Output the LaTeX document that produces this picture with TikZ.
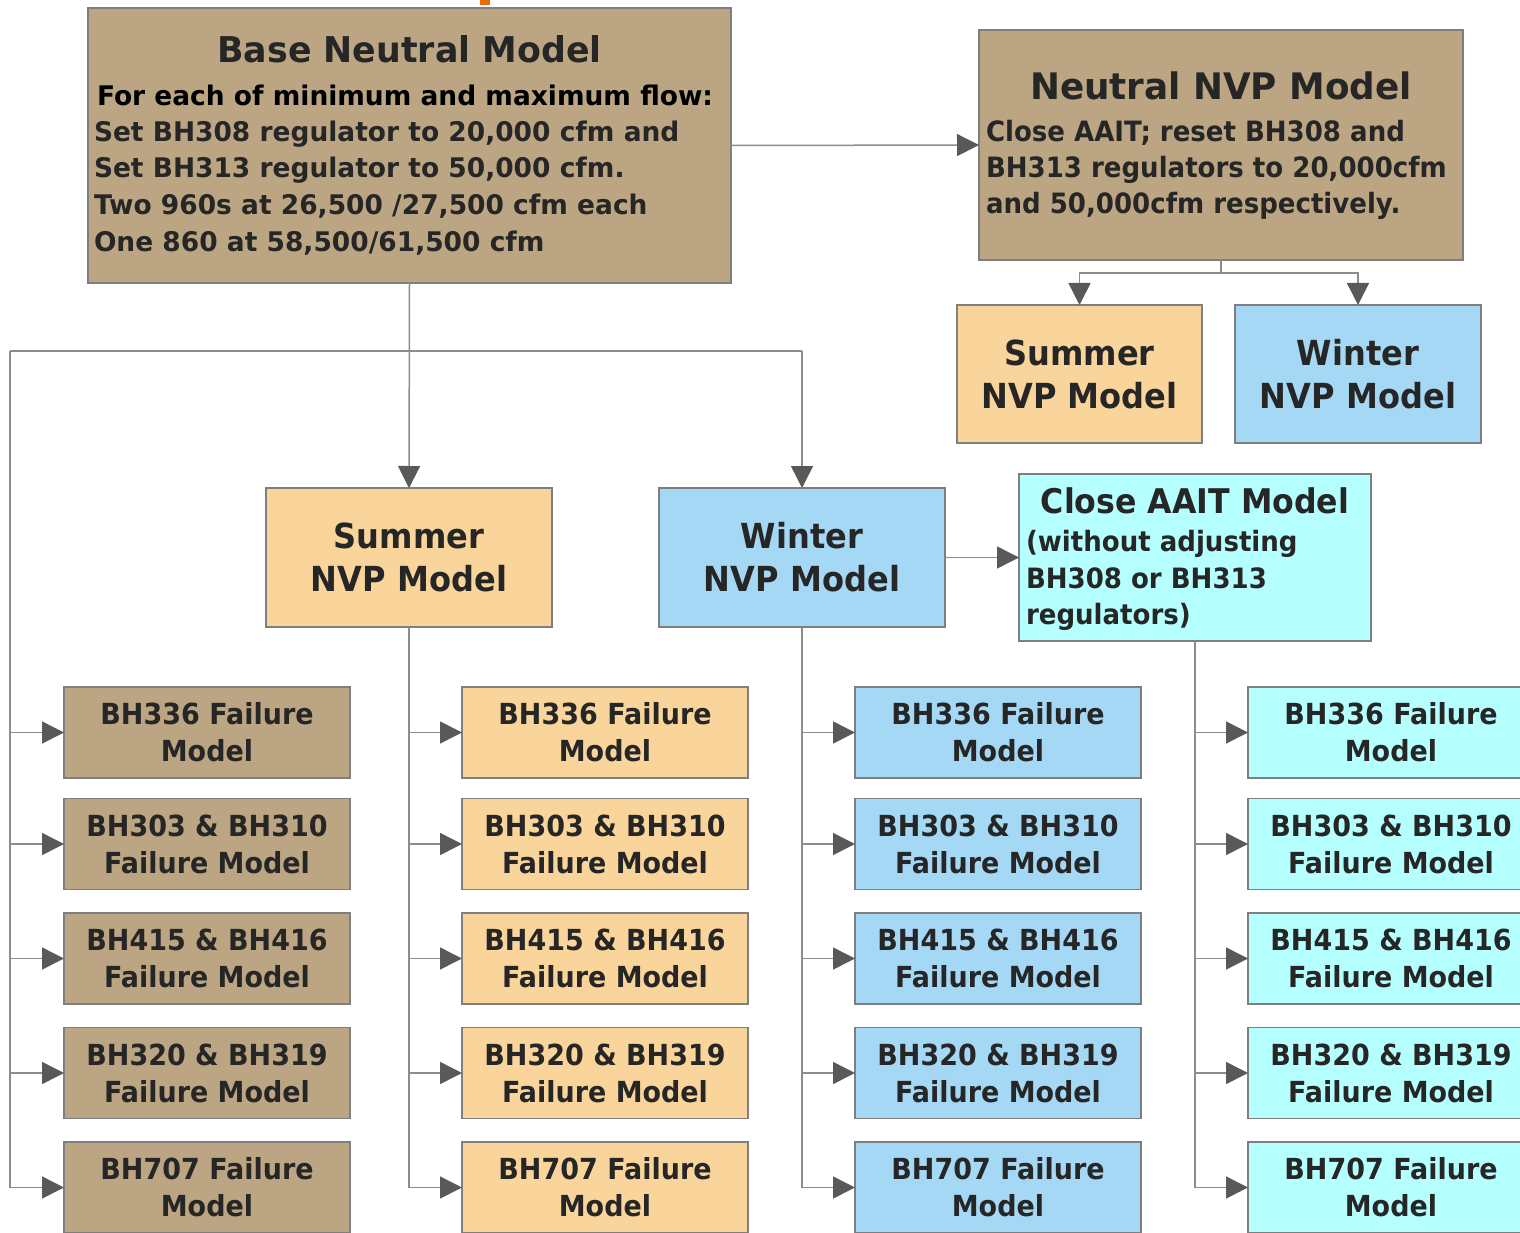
\documentclass[tikz,border=0pt]{standalone}
\usepackage{fontspec}
\setmainfont{DejaVu Sans}[FakeStretch=0.93]
\newfontfamily\wfont{DejaVu Sans}[FakeStretch=0.98]
\usetikzlibrary{arrows.meta}
\definecolor{ctan}{HTML}{BBA582}
\definecolor{csum}{HTML}{FAD59B}
\definecolor{cwin}{HTML}{A5D8F4}
\definecolor{ccyan}{HTML}{B5FFFE}
\definecolor{bordergray}{HTML}{7F7F7F}
\definecolor{linegray}{HTML}{8C8C8C}
\definecolor{arrowgray}{HTML}{595959}
\definecolor{txt}{HTML}{262626}
\definecolor{corange}{HTML}{E46C0A}
\tikzset{
  box/.style={draw=bordergray, line width=1.6pt, anchor=north west, inner sep=0pt, outer sep=0pt, text=txt, align=center},
  failbox/.style={box, minimum width=286pt, minimum height=91pt, font=\bfseries\fontsize{29}{37}\selectfont},
  seasonbox/.style={box, minimum width=#1, minimum height=138pt, font=\bfseries\fontsize{34.5}{43}\selectfont},
  txtnode/.style={inner sep=0pt, outer sep=0pt, text=txt},
  basetitle/.style={txtnode, anchor=base, font=\wfont\bfseries\fontsize{35.5}{40}\selectfont},
  basebody/.style={txtnode, anchor=base west, font=\wfont\bfseries\fontsize{27}{37}\selectfont},
  nvptitle/.style={txtnode, anchor=base, font=\wfont\bfseries\fontsize{36.5}{40}\selectfont},
  body/.style={txtnode, anchor=base west, font=\bfseries\fontsize{28}{37}\selectfont},
  cltitle/.style={txtnode, anchor=base, font=\bfseries\fontsize{34}{40}\selectfont},
  conn/.style={draw=linegray, line width=1.5pt},
  arr/.style={conn, -{Triangle[length=22pt,width=22pt,color=arrowgray]}},
}
\begin{document}
\begin{tikzpicture}[x=1pt, y=-1pt]
\useasboundingbox (0,0) rectangle (1520,1233);
% orange mark at top
\fill[corange] (480,0) rectangle (490,5);

% Base neutral model
\node[box, fill=ctan, minimum width=643pt, minimum height=275pt] (base) at (88,8) {};
\node[basetitle] (baseT) at (409.5,63) {Base Neutral Model};
\node[basebody, text=black] (baseL1) at (97,106) {For each of minimum and maximum flow:};
\node[basebody] (baseL2) at (94,142) {Set BH308 regulator to 20,000 cfm and};
\node[basebody] (baseL3) at (94,178) {Set BH313 regulator to 50,000 cfm.};
\node[basebody] (baseL4) at (94,215) {Two 960s at 26,500 /27,500 cfm each};
\node[basebody] (baseL5) at (94,252) {One 860 at 58,500/61,500 cfm};

% Neutral NVP model
\node[box, fill=ctan, minimum width=484pt, minimum height=230pt] (neutral) at (979,30) {};
\node[nvptitle] (neutralT) at (1221,100) {Neutral NVP Model};
\node[body] (neutralL1) at (986,142) {Close AAIT; reset BH308 and};
\node[body] (neutralL2) at (986,178) {BH313 regulators to 20,000cfm};
\node[body] (neutralL3) at (986,214) {and 50,000cfm respectively.};

% top-right season boxes
\node[seasonbox=245pt, fill=csum] (summerT) at (957,305) {Summer\\NVP Model};
\node[seasonbox=246pt, fill=cwin] (winterT) at (1235,305) {Winter\\NVP Model};

% middle season boxes
\node[seasonbox=286pt, minimum height=139pt, fill=csum] (summerM) at (266,488) {Summer\\NVP Model};
\node[seasonbox=286pt, minimum height=139pt, fill=cwin] (winterM) at (659,488) {Winter\\NVP Model};

% Close AAIT model
\node[box, fill=ccyan, minimum width=352pt, minimum height=167pt] (closeM) at (1019,474) {};
\node[cltitle] (closeT) at (1195,513) {Close AAIT Model};
\node[body] (closeL1) at (1026,551) {(without adjusting};
\node[body] (closeL2) at (1026,588) {BH308 or BH313};
\node[body] (closeL3) at (1026,624) {regulators)};

% failure boxes
\foreach \c/\x/\col in {1/64/ctan, 2/462/csum, 3/855/cwin, 4/1248/ccyan}{
  \node[failbox, fill=\col] (f\c1) at (\x,687) {BH336 Failure\\Model};
  \node[failbox, fill=\col] (f\c2) at (\x,798.5) {BH303 \& BH310\\Failure Model};
  \node[failbox, fill=\col] (f\c3) at (\x,913) {BH415 \& BH416\\Failure Model};
  \node[failbox, fill=\col] (f\c4) at (\x,1027.5) {BH320 \& BH319\\Failure Model};
  \node[failbox, fill=\col] (f\c5) at (\x,1142) {BH707 Failure\\Model};
}

% connectors
\coordinate (j1) at (10,351);
\coordinate (j2) at (802,351);
\coordinate (j3) at (1221,273);
\draw[arr] (base.east) -- (neutral.west);
\draw[conn] (neutral.south) -- (j3);
\draw[arr] (j3) -| (summerT.north);
\draw[arr] (j3) -| (winterT.north);
\draw[arr] (base.south) -- (summerM.north);
\draw[conn] (j1) -- (j2);
\draw[arr] (j2) -- (winterM.north);
\draw[arr] (winterM.east) -- (closeM.west);

% column spines
\draw[arr] (j1) |- (f15.west);
\draw[arr] (summerM.south) |- (f25.west);
\draw[arr] (winterM.south) |- (f35.west);
\draw[arr] (closeM.south) |- (f45.west);
\foreach \r in {1,2,3,4}{
  \draw[arr] (j1 |- f1\r.west) -- (f1\r.west);
  \draw[arr] (summerM.south |- f2\r.west) -- (f2\r.west);
  \draw[arr] (winterM.south |- f3\r.west) -- (f3\r.west);
  \draw[arr] (closeM.south |- f4\r.west) -- (f4\r.west);
}
\end{tikzpicture}
\end{document}
